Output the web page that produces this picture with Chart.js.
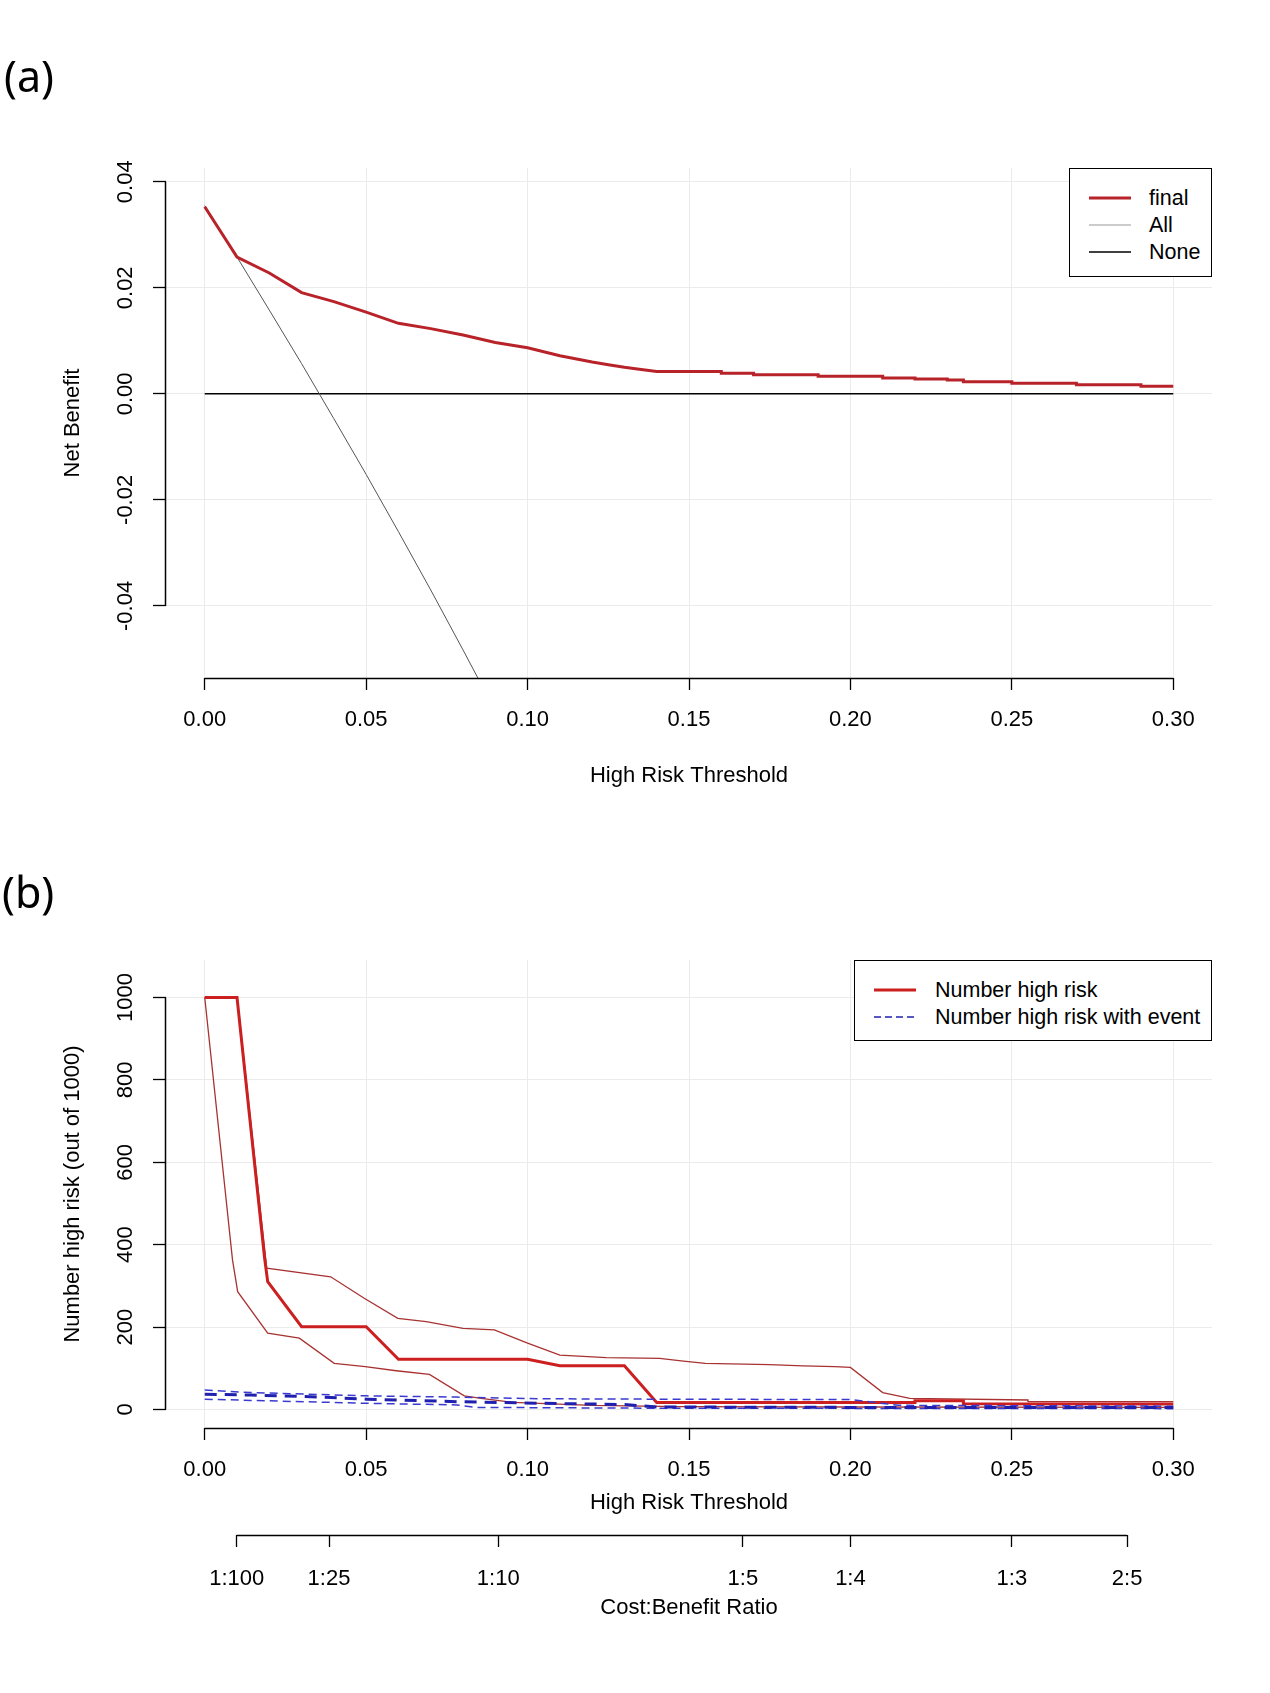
<!DOCTYPE html>
<html>
<head>
<meta charset="utf-8">
<script src="https://cdn.jsdelivr.net/npm/chart.js@4.4.1/dist/chart.umd.min.js"></script>
<style>
body { margin: 0; background: #fff; }
#page { position: relative; width: 1270px; height: 1693px; font-family: "Liberation Sans", Arial, sans-serif; color: #000; }
canvas { position: absolute; left: 0; }
#chartA { top: 0; }
#chartB { top: 800px; }
.tag { position: absolute; font-family: "Noto Sans", sans-serif; font-size: 43px; line-height: 40px; }
.legend { position: absolute; box-sizing: border-box; border: 1.5px solid #000; background: #fff; }
.legend .row { position: absolute; left: 0; height: 26px; line-height: 26px; font-size: 21.5px; white-space: nowrap; }
.legend svg { position: absolute; top: 0; }
.legend span { position: absolute; top: 0; }
</style>
</head>
<body>
<div id="page">
  <canvas id="chartA" width="1270" height="800"></canvas>
  <canvas id="chartB" width="1270" height="893"></canvas>

  <div class="tag" style="left:4px; top:56px;">(a)</div>
  <div class="tag" style="left:2px; top:872px;">(b)</div>

  <div class="legend" style="left:1069px; top:168px; width:143px; height:109px;">
    <div class="row" style="top:16px;">
      <svg style="left:19px" width="42" height="26"><line x1="0" y1="13" x2="42" y2="13" stroke="#b8232a" stroke-width="3"/></svg>
      <span style="left:79px">final</span>
    </div>
    <div class="row" style="top:43px;">
      <svg style="left:19px" width="42" height="26"><line x1="0" y1="13" x2="42" y2="13" stroke="#999" stroke-width="1"/></svg>
      <span style="left:79px">All</span>
    </div>
    <div class="row" style="top:70px;">
      <svg style="left:19px" width="42" height="26"><line x1="0" y1="13" x2="42" y2="13" stroke="#000" stroke-width="1.5"/></svg>
      <span style="left:79px">None</span>
    </div>
  </div>

  <div class="legend" style="left:854px; top:960px; width:358px; height:81px;">
    <div class="row" style="top:16px;">
      <svg style="left:19px" width="42" height="26"><line x1="0" y1="13" x2="42" y2="13" stroke="#cc1f1f" stroke-width="3"/></svg>
      <span style="left:80px">Number high risk</span>
    </div>
    <div class="row" style="top:43px;">
      <svg style="left:19px" width="42" height="26"><line x1="0" y1="13" x2="42" y2="13" stroke="#2020b0" stroke-width="1.5" stroke-dasharray="7 4"/></svg>
      <span style="left:80px">Number high risk with event</span>
    </div>
  </div>
</div>

<script>
// axis ticks
const thresholdTicks = [0, 0.05, 0.10, 0.15, 0.20, 0.25, 0.30];
const netBenefitTicks = [-0.04, -0.02, 0, 0.02, 0.04];
const numberTicks = [0, 200, 400, 600, 800, 1000];
const costBenefitTicks = [0.0099, 0.0385, 0.0909, 0.1667, 0.2, 0.25, 0.2857];
const costBenefitLabels = ["1:100", "1:25", "1:10", "1:5", "1:4", "1:3", "2:5"];

// (a) net benefit
const finalX = [0, 0.01, 0.02, 0.03, 0.04, 0.05, 0.06, 0.07, 0.08, 0.09,
  0.10, 0.11, 0.12, 0.125, 0.13, 0.134, 0.14, 0.16, 0.16, 0.17, 0.17,
  0.19, 0.19, 0.21, 0.21, 0.22, 0.22, 0.23, 0.23, 0.235, 0.235,
  0.25, 0.25, 0.27, 0.27, 0.29, 0.29, 0.30];
const finalNB = [0.0353, 0.0258, 0.0228, 0.0191, 0.0174, 0.0154, 0.0133, 0.0123, 0.0111, 0.0097,
  0.0087, 0.0072, 0.0060, 0.0055, 0.0050, 0.0047, 0.0042, 0.0042, 0.0039, 0.0039, 0.0036,
  0.0036, 0.0033, 0.0033, 0.0030, 0.0030, 0.0028, 0.0028, 0.0026, 0.0026, 0.0023,
  0.0023, 0.0020, 0.0020, 0.0017, 0.0017, 0.00145, 0.00145];
const allX = [0, 0.01, 0.02, 0.03, 0.04, 0.05, 0.06, 0.07, 0.08, 0.09];
const allNB = [0.0355, 0.0258, 0.0158, 0.0057, -0.0047, -0.0152, -0.0260, -0.0370, -0.0483, -0.0598];
const noneX = [0, 0.30];
const noneNB = [0, 0];

// (b) number high risk, out of 1000
const riskX = [0, 0.01, 0.0185, 0.0195, 0.03, 0.05, 0.06, 0.10, 0.11, 0.13, 0.14, 0.22, 0.22, 0.235, 0.235, 0.30];
const riskN = [1000, 1000, 370, 310, 201, 201, 122, 122, 106, 106, 17, 17, 21, 21, 14, 13];
const riskUpX = [0, 0.01, 0.0192, 0.039, 0.0494, 0.0598, 0.0686, 0.08, 0.0897, 0.10, 0.11, 0.1244,
  0.1409, 0.1476, 0.155, 0.175, 0.1853, 0.1951, 0.20, 0.21, 0.2184, 0.255, 0.255, 0.30];
const riskUpN = [1000, 1000, 343, 322, 270, 221, 213, 197, 193, 161, 132, 126,
  124, 118, 112, 109, 106, 104, 102, 41, 27, 23, 19, 19];
const riskLoX = [0, 0.0086, 0.0102, 0.0195, 0.0293, 0.0401, 0.0497, 0.0593, 0.0696, 0.0804, 0.0856, 0.0954, 0.12, 0.147, 0.20, 0.30];
const riskLoN = [1000, 363, 286, 185, 173, 112, 104, 94, 85, 33, 27, 17, 10, 7, 6, 5];
const eventX = [0, 0.0143, 0.0365, 0.05, 0.078, 0.104, 0.13, 0.14, 0.20, 0.30];
const eventN = [37, 35, 30, 25, 19, 15, 12, 6, 5, 5];
const eventUpX = [0, 0.0143, 0.028, 0.05, 0.078, 0.104, 0.14, 0.20, 0.215, 0.30];
const eventUpN = [47, 41, 38, 33, 30, 26, 25, 24, 10, 8];
const eventLoX = [0, 0.0143, 0.05, 0.078, 0.084, 0.14, 0.30];
const eventLoN = [25, 22, 15, 11, 5, 3, 2];

function pts(xs, ys) {
  return xs.map((x, i) => ({ x: x, y: ys[i] }));
}

const font = { family: "'Liberation Sans', Arial, sans-serif", size: 22 };
Chart.defaults.color = "#000";

// R draws the axis line only between the first and last tick
const rAxisLines = {
  id: "rAxisLines",
  afterDraw(chart) {
    const ctx = chart.ctx;
    ctx.save();
    ctx.strokeStyle = "#000";
    ctx.lineWidth = 1.5;
    Object.values(chart.scales).forEach(s => {
      if (!s.ticks.length) return;
      const a = s.getPixelForValue(s.ticks[0].value);
      const b = s.getPixelForValue(s.ticks[s.ticks.length - 1].value);
      ctx.beginPath();
      if (s.isHorizontal()) {
        ctx.moveTo(a, s.top + 0.5);
        ctx.lineTo(b, s.top + 0.5);
      } else {
        ctx.moveTo(s.right - 0.5, a);
        ctx.lineTo(s.right - 0.5, b);
      }
      ctx.stroke();
    });
    ctx.restore();
  }
};

function xAxis(tickVals, labelFn, title, height, tickPad, titlePad, weight, onArea) {
  return {
    type: "linear", position: "bottom", min: -0.012, max: 0.312, weight: weight,
    afterBuildTicks: s => { s.ticks = tickVals.map(v => ({ value: v })); },
    afterFit: s => { s.height = height; },
    border: { display: false },
    grid: { color: "#ebebeb", drawOnChartArea: onArea, tickColor: "#000", tickLength: 12, tickWidth: 1.3 },
    ticks: { font: font, padding: tickPad, autoSkip: false, maxRotation: 0, callback: labelFn },
    title: { display: true, text: title, font: font, padding: { top: 0, bottom: titlePad } }
  };
}

function yAxis(tickVals, labelFn, min, max, title, tickPad) {
  return {
    type: "linear", min: min, max: max,
    afterBuildTicks: s => { s.ticks = tickVals.map(v => ({ value: v })); },
    afterFit: s => { s.width = 166; },
    border: { display: false },
    grid: { color: "#ebebeb", tickColor: "#000", tickLength: 13, tickWidth: 1.3 },
    ticks: { font: font, minRotation: 90, maxRotation: 90, crossAlign: "center", padding: tickPad, autoSkip: false, callback: labelFn },
    title: { display: true, text: title, font: font, padding: { top: 59.8, bottom: 0 } }
  };
}

const common = {
  responsive: false,
  animation: false,
  devicePixelRatio: 1,
  elements: { point: { radius: 0 }, line: { tension: 0, fill: false } },
  plugins: { legend: { display: false }, tooltip: { enabled: false } }
};

new Chart(document.getElementById("chartA"), {
  type: "line",
  data: {
    datasets: [
      { label: "final", data: pts(finalX, finalNB), borderColor: "#b8232a", borderWidth: 3, order: 0 },
      { label: "All", data: pts(allX, allNB), borderColor: "#555", borderWidth: 1, order: 1 },
      { label: "None", data: pts(noneX, noneNB), borderColor: "#000", borderWidth: 1.5, order: 2 }
    ]
  },
  options: Object.assign({}, common, {
    layout: { padding: { left: 0, top: 168, right: 58, bottom: 2 } },
    scales: {
      x: xAxis(thresholdTicks, v => v.toFixed(2), "High Risk Threshold", 120, 16.8, 8.8, 0, true),
      y: yAxis(netBenefitTicks, v => v.toFixed(2), -0.0536, 0.0426, "Net Benefit", 2.4)
    }
  }),
  plugins: [rAxisLines]
});

const dashThin = [8, 5];
const dashThick = [12, 8];

new Chart(document.getElementById("chartB"), {
  type: "line",
  data: {
    datasets: [
      { label: "Number high risk with event", data: pts(eventX, eventN), xAxisID: "x", borderColor: "#2020b0", borderWidth: 3, borderDash: dashThick, order: 0 },
      { label: "event upper", data: pts(eventUpX, eventUpN), xAxisID: "x", borderColor: "#3a3ad0", borderWidth: 1.5, borderDash: dashThin, order: 1 },
      { label: "event lower", data: pts(eventLoX, eventLoN), xAxisID: "x", borderColor: "#3a3ad0", borderWidth: 1.5, borderDash: dashThin, order: 1 },
      { label: "Number high risk", data: pts(riskX, riskN), xAxisID: "x", borderColor: "#cc1f1f", borderWidth: 3, order: 2 },
      { label: "risk upper", data: pts(riskUpX, riskUpN), xAxisID: "x", borderColor: "#a83232", borderWidth: 1.3, order: 3 },
      { label: "risk lower", data: pts(riskLoX, riskLoN), xAxisID: "x", borderColor: "#a83232", borderWidth: 1.3, order: 3 }
    ]
  },
  options: Object.assign({}, common, {
    layout: { padding: { left: 0, top: 160, right: 58, bottom: 38 } },
    scales: {
      x: xAxis(thresholdTicks, v => v.toFixed(2), "High Risk Threshold", 107, 16.8, 19.2, 0, true),
      x2: Object.assign(xAxis(costBenefitTicks, (v, i) => costBenefitLabels[i], "Cost:Benefit Ratio", 120, 18.3, 33.8, 1, false), { axis: "x" }),
      y: yAxis(numberTicks, v => String(v), -45, 1091, "Number high risk (out of 1000)", 3)
    }
  }),
  plugins: [rAxisLines]
});
</script>
</body>
</html>
